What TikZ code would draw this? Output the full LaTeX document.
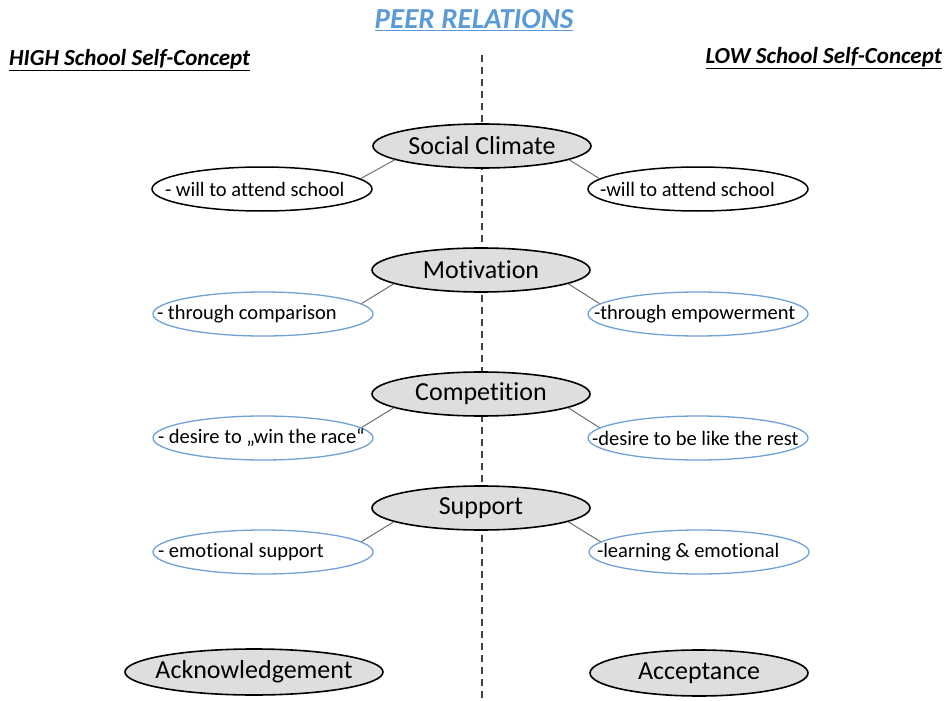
\documentclass[tikz,border=0pt]{standalone}
\usepackage{fontspec}
\setmainfont{Carlito}[Ligatures=CommonOff]
\usetikzlibrary{shapes.geometric}
\definecolor{titleblue}{HTML}{5B9BD5}
\definecolor{edgeblue}{HTML}{6FA2D6}
\definecolor{mainfill}{HTML}{DEDEDE}
\definecolor{conncol}{HTML}{707070}
\newcommand\zb[1]{\makebox[0pt]{#1}}
\newcommand\zl[2]{\makebox[0pt][l]{\hspace*{#1pt}#2}}
\begin{document}
\begin{tikzpicture}[x=1pt,y=-1pt,
  mainell/.style={ellipse, draw=black, line width=1.6pt, fill=mainfill,
    minimum width=218pt, minimum height=44pt, inner sep=0pt,
    font=\fontsize{26}{30}\selectfont},
  subblack/.style={ellipse, draw=black, line width=1.5pt, fill=white,
    minimum width=220pt, minimum height=44pt, inner sep=0pt,
    font=\fontsize{20.5}{24}\selectfont},
  subblue/.style={subblack, draw=edgeblue, line width=1.3pt},
  conn/.style={draw=conncol, line width=1pt},
  divider/.style={draw=black!75, line width=1.1pt, dash pattern=on 7pt off 5pt},
  header/.style={font=\fontsize{23}{27}\selectfont\bfseries\itshape, inner sep=0pt}
]
\useasboundingbox (0,0) rectangle (946,701);

% divider
\coordinate (dtop) at (482,55);
\coordinate (dbot) at (482,701);
\draw[divider] (dtop) -- (dbot);

% titles
\node[inner sep=0pt, font=\fontsize{29}{33}\selectfont\bfseries\itshape, text=titleblue]
  (title) at (474,20) {\underline{PEER RELATIONS}};
\node[header, anchor=west] (high) at (9,60) {\underline{HIGH School Self-Concept}};
\node[header, anchor=east] (low) at (942,58) {\underline{LOW School Self-Concept}};

% row 1
\node[mainell] (m1) at (482,146) {\zb{Social Climate}};
\node[subblack] (l1) at (262,189) {\zl{-97}{- will to attend school}};
\node[subblack] (r1) at (698,189) {\zl{-98}{-will to attend school}};
% row 2
\node[mainell] (m2) at (481,270) {\zb{Motivation}};
\node[subblue] (l2) at (263,314) {\zl{-106}{- through comparison}};
\node[subblue] (r2) at (698,314) {\zl{-104}{-through empowerment}};
% row 3
\node[mainell] (m3) at (481,394) {\zb{Competition}};
\node[subblue] (l3) at (263,438) {\zl{-105}{- desire to „win the race“}};
\node[subblue] (r3) at (698,438) {\zl{-106}{-desire to be like the rest}};
% row 4
\node[mainell] (m4) at (481,508) {\zb{Support}};
\node[subblue] (l4) at (263,552) {\zl{-105}{- emotional support}};
\node[subblue] (r4) at (699,552) {\zl{-102}{-learning \& emotional}};
% bottom
\node[mainell, minimum width=258pt, minimum height=46pt] (ack) at (254,672) {\zb{Acknowledgement}};
\node[mainell, minimum height=46pt] (acc) at (699,673) {\zb{Acceptance}};

% connectors
\foreach \i in {1,2,3,4}{
  \draw[conn] (m\i.189) -- (l\i.6);
  \draw[conn] (m\i.351) -- (r\i.174);
}
\end{tikzpicture}
\end{document}
